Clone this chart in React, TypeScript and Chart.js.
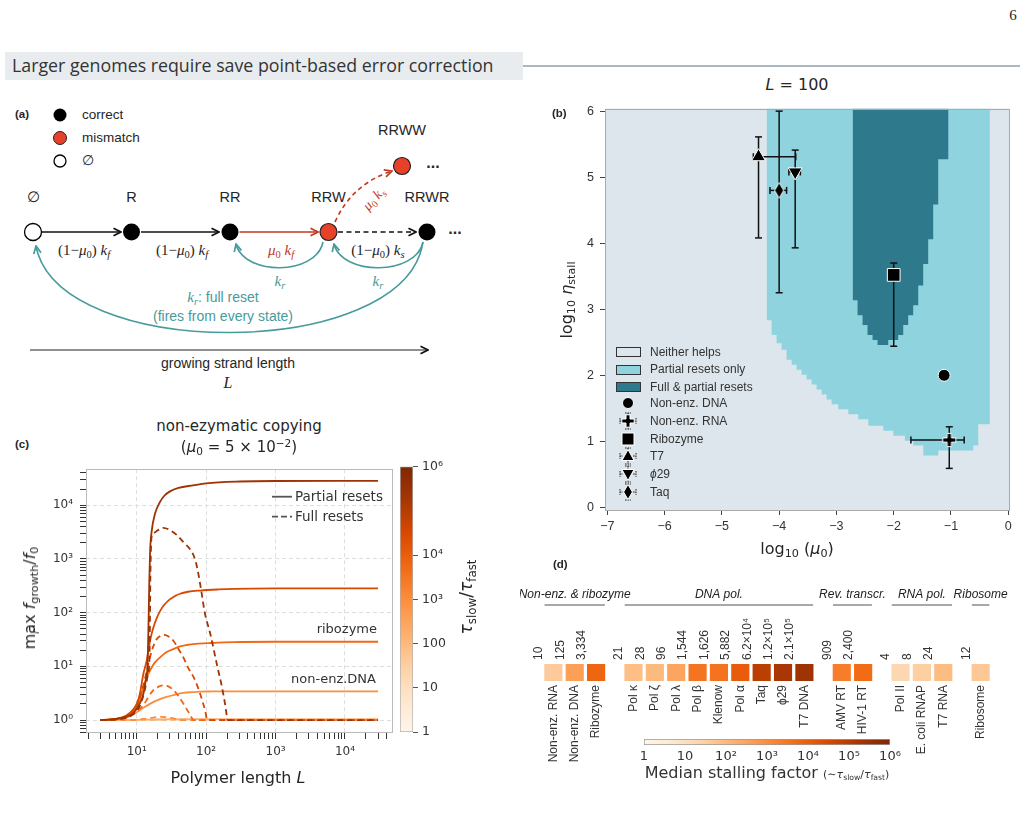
import React, { useEffect, useRef } from 'react';
import { Chart, registerables } from 'chart.js';

Chart.register(...registerables);

// ======================= DATA =======================
// (b) regime map at L = 100 — lower edge of each region for each column (log10 mu0)
const partialColLeft = [-4.219, -4.131, -4.044, -3.957, -3.870, -3.782, -3.695, -3.608, -3.521, -3.433, -3.346, -3.259, -3.172, -3.084, -2.968, -2.793, -2.619, -2.444, -2.182, -2.008, -1.805, -1.659, -1.484, -1.222, -0.611, -0.524, -0.408];
const partialColLow = [3.285, 2.835, 2.61, 2.485, 2.385, 2.235, 2.16, 2.085, 2.01, 1.935, 1.86, 1.785, 1.71, 1.635, 1.56, 1.485, 1.41, 1.335, 1.235, 1.16, 1.085, 1.01, 0.935, 0.785, 0.86, 0.935, 1.26];
const partialRightEdge = -0.321;
const fullColLeft = [-2.718, -2.631, -2.544, -2.457, -2.369, -2.282, -2.096, -1.922, -1.834, -1.747, -1.660, -1.572, -1.485, -1.398, -1.311, -1.223, -1.136];
const fullColLow = [3.61, 3.135, 2.91, 2.76, 2.61, 2.535, 2.46, 2.535, 2.61, 2.76, 2.91, 3.06, 3.36, 3.685, 4.06, 4.585, 5.27];
const fullRightEdge = -1.043;

// (b) measured systems
const pointNames = ['Non-enz. DNA', 'Non-enz. RNA', 'Ribozyme', 'T7', 'ϕ29', 'Taq'];
const pointLogMu = [-1.12, -1.03, -2.0, -4.36, -3.72, -4.0];
const pointLogEta = [2.0, 1.02, 3.52, 5.31, 5.08, 4.8];
const pointMuLo = [null, -1.70, null, -4.45, -3.83, -4.16];
const pointMuHi = [null, -0.77, null, -3.71, -3.63, -3.87];
const pointEtaLo = [null, 0.59, 2.44, 4.08, 3.93, 3.25];
const pointEtaHi = [null, 1.22, 3.70, 5.61, 5.41, 6.0];
const xTicksB = [-7, -6, -5, -4, -3, -2, -1, 0];
const yTicksB = [0, 1, 2, 3, 4, 5, 6];

// (c) max growth factor vs polymer length, for several tau_slow/tau_fast
const tauRatios = [10, 100, 1e3, 1e4, 1e6];
const partialL_10 = [3, 10, 20, 50, 30000];
const partialF_10 = [1.0, 1.01, 1.03, 1.04, 1.04];
const fullL_10 = [3, 20, 30000];
const fullF_10 = [1.0, 1.01, 1.0];
const partialL_100 = [3, 5, 7, 10, 13, 16, 20, 27, 35, 47, 65, 82, 120, 200, 500, 30000];
const partialF_100 = [1.0, 1.03, 1.1, 1.4, 1.75, 2.05, 2.35, 2.7, 2.95, 3.2, 3.32, 3.38, 3.41, 3.43, 3.43, 3.43];
const fullL_100 = [3, 8, 12, 16, 22, 28, 35, 42, 60, 30000];
const fullF_100 = [1.0, 1.0, 1.04, 1.1, 1.15, 1.12, 1.06, 1.0, 1.0, 1.0];
const partialL_1e3 = [3, 5, 7, 9, 10, 11, 12.5, 14, 15.6, 18, 21.7, 27, 33.8, 42, 52.6, 70, 103, 250, 1000, 30000];
const partialF_1e3 = [1.0, 1.04, 1.15, 1.45, 1.76, 2.4, 4.1, 6.3, 8.4, 11.5, 14.7, 18.5, 21, 23.5, 25, 26.3, 27, 28.3, 28.7, 28.7];
const fullL_1e3 = [3, 7, 10, 12.5, 15, 17.4, 20, 24, 28, 34, 40, 47, 55, 59, 66, 100, 30000];
const fullF_1e3 = [1.0, 1.1, 1.5, 1.9, 2.8, 3.6, 4.1, 4.43, 4.3, 3.6, 2.8, 2.03, 1.45, 1.24, 1.0, 1.0, 1.0];
const partialL_1e4 = [3, 5, 7, 9, 10, 11, 12.5, 14, 14.7, 16, 17.4, 19.5, 21.7, 25, 30, 36, 42, 55, 82, 150, 250, 1000, 30000];
const partialF_1e4 = [1.0, 1.05, 1.2, 1.6, 2.0, 2.9, 7.3, 13, 19.6, 35, 53, 80, 107, 140, 177, 205, 225, 245, 258, 270, 277, 283, 284];
const fullL_1e4 = [3, 7, 10, 12.5, 14, 16.5, 19.4, 22, 24, 27, 33.8, 40, 47, 55, 66, 75, 82, 90, 97, 104, 30000];
const fullF_1e4 = [1.0, 1.15, 1.9, 4.5, 8.4, 19.6, 32, 37, 38.7, 37.5, 30, 21, 14.7, 9.5, 6.3, 4.3, 3.1, 2.1, 1.5, 1.0, 1.0];
const partialL_1e6 = [3, 5, 7, 9, 10, 11, 12.5, 13.5, 14.3, 14.8, 15.2, 15.6, 16.4, 18.4, 21.7, 25, 30.2, 40, 65, 100, 308, 1000, 30000];
const partialF_1e6 = [1.0, 1.05, 1.15, 1.35, 1.64, 2.0, 3.1, 5.5, 10, 60, 384, 1380, 3200, 6980, 11500, 15000, 18100, 21000, 23400, 25500, 27600, 28200, 28300];
const fullL_1e6 = [3, 6, 9, 11, 13, 14.5, 15.3, 15.8, 16.4, 18, 20, 24.2, 30, 37.7, 48, 62, 69, 75, 85, 95, 115, 145, 170, 190, 205, 30000];
const fullF_1e6 = [1.0, 1.05, 1.3, 1.8, 3.5, 7, 15, 600, 2600, 3100, 3400, 3800, 3450, 2800, 2000, 1370, 1000, 650, 260, 105, 40, 10, 4, 1.8, 1.0, 1.0];
const partialCurvesL = [partialL_10, partialL_100, partialL_1e3, partialL_1e4, partialL_1e6];
const partialCurvesF = [partialF_10, partialF_100, partialF_1e3, partialF_1e4, partialF_1e6];
const fullCurvesL = [fullL_10, fullL_100, fullL_1e3, fullL_1e4, fullL_1e6];
const fullCurvesF = [fullF_10, fullF_100, fullF_1e3, fullF_1e4, fullF_1e6];
const cbTicksC = [1, 10, 100, 1e3, 1e4, 1e6];
const cbLabelsC = ['1', '10', '100', '10³', '10⁴', '10⁶'];

// (d) median stalling factors
const enzymeNames = ['Non-enz. RNA', 'Non-enz. DNA', 'Ribozyme', 'Pol κ', 'Pol ζ', 'Pol λ', 'Pol β', 'Klenow', 'Pol α', 'Taq', 'ϕ29', 'T7 DNA', 'AMV RT', 'HIV-1 RT', 'Pol II', 'E. coli RNAP', 'T7 RNA', 'Ribosome'];
const enzymeGroup = [0, 0, 0, 1, 1, 1, 1, 1, 1, 1, 1, 1, 2, 2, 3, 3, 3, 4];
const stallingFactor = [10, 125, 3334, 21, 28, 96, 1544, 1626, 5882, 62000, 120000, 210000, 909, 2400, 4, 8, 24, 12];
const stallingLabels = ['10', '125', '3,334', '21', '28', '96', '1,544', '1,626', '5,882', '6.2×10⁴', '1.2×10⁵', '2.1×10⁵', '909', '2,400', '4', '8', '24', '12'];
const groupNames = ['Non-enz. & ribozyme', 'DNA pol.', 'Rev. transcr.', 'RNA pol.', 'Ribosome'];
const cbTicksD = [1, 10, 100, 1e3, 1e4, 1e5, 1e6];
const cbLabelsD = ['1', '10', '10²', '10³', '10⁴', '10⁵', '10⁶'];

// ======================= STYLE HELPERS =======================
const SANS = '"Liberation Sans", Arial, Helvetica, sans-serif';
const DJV = '"DejaVu Sans", Verdana, sans-serif';
const SERIF = '"Liberation Serif", "DejaVu Serif", serif';
const TXT = '#262626';
const C_BG = '#dce6ec';
const C_PARTIAL = '#8fd3df';
const C_FULL = '#2e7a8c';
const GROUP_GAP = 0.75;

const ORANGES = ['#fff5eb', '#fee6ce', '#fdd0a2', '#fdae6b', '#fd8d3c', '#f16913', '#d94801', '#a63603', '#7f2704'];
function hexToRgb(h: string) { return [1, 3, 5].map((i) => parseInt(h.slice(i, i + 2), 16)); }
function oranges(t: number) {
  const c = Math.max(0, Math.min(1, t)) * 8;
  const i = Math.min(7, Math.floor(c));
  const f = c - i;
  const a = hexToRgb(ORANGES[i]);
  const b = hexToRgb(ORANGES[i + 1]);
  return `rgb(${a.map((v, k) => Math.round(v + (b[k] - v) * f)).join(',')})`;
}
const SUP: any = { '0': '⁰', '1': '¹', '2': '²', '3': '³', '4': '⁴', '5': '⁵', '6': '⁶', '7': '⁷', '8': '⁸', '9': '⁹', '-': '⁻' };
const isPow10 = (v: number) => Math.abs(Math.log10(v) - Math.round(Math.log10(v))) < 1e-9;
const powLabel = (v: number) => '10' + String(Math.round(Math.log10(v))).split('').map((c) => SUP[c]).join('');
function logTicks(min: number, max: number) {
  const out: number[] = [];
  for (let e = -2; e <= 6; e++) for (let k = 1; k <= 9; k++) {
    const v = parseFloat((k * Math.pow(10, e)).toPrecision(6));
    if (v >= min && v <= max) out.push(v);
  }
  return out;
}

function T(props: any) {
  const { x, y, children, align = 'center', size = 12, color = TXT, font = SANS, weight = 'normal', italic = false, rotate = 0 } = props;
  const tx = align === 'center' ? '-50%' : align === 'right' ? '-100%' : '0%';
  return (
    <div style={{ position: 'absolute', left: x, top: y, transform: `translate(${tx}, -50%)` + (rotate ? ` rotate(${rotate}deg)` : ''), fontSize: size, color, fontFamily: font, fontWeight: weight, fontStyle: italic ? 'italic' : 'normal', whiteSpace: 'nowrap', lineHeight: 1 }}>
      {children}
    </div>
  );
}
const Sub = ({ children }: any) => <span style={{ fontSize: '0.7em', position: 'relative', top: '0.3em' }}>{children}</span>;
const Sup = ({ children }: any) => <span style={{ fontSize: '0.7em', position: 'relative', top: '-0.5em' }}>{children}</span>;
const I = ({ children }: any) => <span style={{ fontStyle: 'italic' }}>{children}</span>;

const frame = (color: string) => ({
  id: 'frame',
  afterDraw(chart: any) {
    const a = chart.chartArea;
    const ctx = chart.ctx;
    ctx.save();
    ctx.strokeStyle = color;
    ctx.lineWidth = 1;
    ctx.strokeRect(Math.round(a.left) + 0.5, Math.round(a.top) + 0.5, Math.round(a.right - a.left) - 1, Math.round(a.bottom - a.top) - 1);
    ctx.restore();
  },
});

// ======================= PANEL (b) =======================
function markerImage(kind: string) {
  const c = document.createElement('canvas');
  const ctx = c.getContext('2d')!;
  if (kind === 'plus') {
    c.width = 16; c.height = 16;
    ctx.translate(8, 8);
    ctx.beginPath();
    const a = 2.1, b = 6.6;
    ctx.moveTo(-a, -b); ctx.lineTo(a, -b); ctx.lineTo(a, -a); ctx.lineTo(b, -a); ctx.lineTo(b, a); ctx.lineTo(a, a);
    ctx.lineTo(a, b); ctx.lineTo(-a, b); ctx.lineTo(-a, a); ctx.lineTo(-b, a); ctx.lineTo(-b, -a); ctx.lineTo(-a, -a); ctx.closePath();
  } else {
    c.width = 12; c.height = 18;
    ctx.translate(6, 9);
    ctx.beginPath();
    ctx.moveTo(0, -7.8); ctx.lineTo(4.6, 0); ctx.lineTo(0, 7.8); ctx.lineTo(-4.6, 0); ctx.closePath();
  }
  ctx.fillStyle = '#000';
  ctx.fill();
  ctx.strokeStyle = '#fff';
  ctx.lineWidth = 1;
  ctx.stroke();
  return c;
}

function makeB(canvas: HTMLCanvasElement) {
  const stepPts = (xs: number[], ys: number[], xEnd: number) => [...xs.map((x, i) => ({ x, y: ys[i] })), { x: xEnd, y: ys[ys.length - 1] }];
  const styles: any[] = ['circle', markerImage('plus'), 'rect', 'triangle', 'triangle', markerImage('diamond')];
  const radii = [6, 7, 9, 8, 8, 8];
  const rot = [0, 0, 0, 0, 180, 0];
  const markerSets = pointNames.map((name, i) => ({
    type: 'line',
    label: name,
    data: [{ x: pointLogMu[i], y: pointLogEta[i] }],
    showLine: false,
    pointStyle: styles[i],
    pointRadius: radii[i],
    pointRotation: rot[i],
    pointBackgroundColor: '#000',
    pointBorderColor: '#fff',
    pointBorderWidth: 1,
    order: 1,
  }));
  const bgPlugin = {
    id: 'bgB',
    beforeDatasetsDraw(chart: any) {
      const a = chart.chartArea;
      chart.ctx.save();
      chart.ctx.fillStyle = C_BG;
      chart.ctx.fillRect(a.left, a.top, a.right - a.left, a.bottom - a.top);
      chart.ctx.restore();
    },
  };
  const errPlugin = {
    id: 'errB',
    afterDatasetDraw(chart: any, args: any) {
      if (args.index !== 0) return;
      const { ctx } = chart;
      const xs = chart.scales.x;
      const ys = chart.scales.y;
      const cap = 3.5;
      ctx.save();
      ctx.strokeStyle = '#111';
      ctx.lineWidth = 1.5;
      const seg = (x1: number, y1: number, x2: number, y2: number) => { ctx.beginPath(); ctx.moveTo(x1, y1); ctx.lineTo(x2, y2); ctx.stroke(); };
      pointLogMu.forEach((mu, i) => {
        const px = xs.getPixelForValue(mu);
        const py = ys.getPixelForValue(pointLogEta[i]);
        if (pointEtaLo[i] != null) {
          const y1 = ys.getPixelForValue(pointEtaLo[i] as number);
          const y2 = ys.getPixelForValue(pointEtaHi[i] as number);
          seg(px, y1, px, y2); seg(px - cap, y1, px + cap, y1); seg(px - cap, y2, px + cap, y2);
        }
        if (pointMuLo[i] != null) {
          const x1 = xs.getPixelForValue(pointMuLo[i] as number);
          const x2 = xs.getPixelForValue(pointMuHi[i] as number);
          seg(x1, py, x2, py); seg(x1, py - cap, x1, py + cap); seg(x2, py - cap, x2, py + cap);
        }
      });
      ctx.restore();
    },
  };
  const tickFont = { family: SANS, size: 12.5 };
  return new Chart(canvas, {
    type: 'line',
    data: {
      datasets: [
        { label: 'Full & partial resets', data: stepPts(fullColLeft, fullColLow, fullRightEdge), stepped: 'after', fill: 'end', backgroundColor: C_FULL, borderWidth: 0, borderColor: 'rgba(0,0,0,0)', pointRadius: 0, order: 2 },
        { label: 'Partial resets only', data: stepPts(partialColLeft, partialColLow, partialRightEdge), stepped: 'after', fill: 'end', backgroundColor: C_PARTIAL, borderWidth: 0, borderColor: 'rgba(0,0,0,0)', pointRadius: 0, order: 3 },
        ...markerSets,
      ] as any,
    },
    options: {
      animation: false,
      responsive: false,
      events: [],
      layout: { padding: { top: 9, right: 10, left: 0, bottom: 0 } },
      plugins: { legend: { display: false }, tooltip: { enabled: false } },
      scales: {
        x: {
          type: 'linear', min: -7.04, max: 0.03,
          afterBuildTicks: (s: any) => { s.ticks = xTicksB.map((v) => ({ value: v })); },
          afterFit: (s: any) => { s.height = 30; },
          ticks: { autoSkip: false, maxRotation: 0, padding: 4, font: tickFont, color: '#333', callback: (v: any) => (v < 0 ? '−' + Math.abs(v) : String(v)) },
          grid: { drawOnChartArea: false, tickLength: 5, tickColor: '#444', tickWidth: 1 },
          border: { display: false },
        },
        y: {
          type: 'linear', min: -0.04, max: 6.04,
          afterBuildTicks: (s: any) => { s.ticks = yTicksB.map((v) => ({ value: v })); },
          afterFit: (s: any) => { s.width = 45; },
          ticks: { autoSkip: false, padding: 6, font: tickFont, color: '#333', callback: (v: any) => String(v) },
          grid: { drawOnChartArea: false, tickLength: 5, tickColor: '#444', tickWidth: 1 },
          border: { display: false },
        },
      },
    } as any,
    plugins: [bgPlugin, errPlugin, frame('#aaaaaa')],
  });
}

// ======================= PANEL (c) =======================
function lineColor(ratio: number) { return oranges(Math.min(0.9, 0.25 + 0.75 * Math.log10(ratio) / 6)); }

function makeC(canvas: HTMLCanvasElement) {
  const datasets: any[] = [];
  const n = tauRatios.length;
  tauRatios.forEach((r, k) => {
    datasets.push({
      label: 'partial ' + r,
      data: partialCurvesL[k].map((x, i) => ({ x, y: partialCurvesF[k][i] })),
      borderColor: lineColor(r), borderWidth: 1.8, pointRadius: 0, fill: false,
      cubicInterpolationMode: 'monotone', order: 2 * (n - k) + 1,
    });
    datasets.push({
      label: 'full ' + r,
      data: fullCurvesL[k].map((x, i) => ({ x, y: fullCurvesF[k][i] })),
      borderColor: lineColor(r), borderWidth: 1.8, borderDash: [6, 4], pointRadius: 0, fill: false,
      cubicInterpolationMode: 'monotone', order: 2 * (n - k),
    });
  });
  const tickFont = { family: DJV, size: 12 };
  const gridColor = (ctx: any) => (ctx.tick && isPow10(ctx.tick.value) ? '#dedede' : 'rgba(0,0,0,0)');
  return new Chart(canvas, {
    type: 'line',
    data: { datasets },
    options: {
      animation: false,
      responsive: false,
      events: [],
      layout: { padding: { top: 12, right: 7, left: 0, bottom: 0 } },
      plugins: { legend: { display: false }, tooltip: { enabled: false } },
      scales: {
        x: {
          type: 'logarithmic', min: 1.862, max: 49200,
          afterBuildTicks: (s: any) => { s.ticks = logTicks(1.862, 49200).map((v) => ({ value: v })); },
          afterFit: (s: any) => { s.height = 42; },
          ticks: { autoSkip: false, maxRotation: 0, padding: 6, font: tickFont, color: '#333', callback: (v: any) => (isPow10(v) ? powLabel(v) : '') },
          grid: { color: gridColor, lineWidth: 1, tickLength: 6, tickColor: '#333', tickWidth: 1 },
          border: { display: false, dash: [4, 3] },
        },
        y: {
          type: 'logarithmic', min: 0.575, max: 46800,
          afterBuildTicks: (s: any) => { s.ticks = logTicks(0.575, 46800).map((v) => ({ value: v })); },
          afterFit: (s: any) => { s.width = 56; },
          ticks: { autoSkip: false, padding: 7, font: tickFont, color: '#333', callback: (v: any) => (isPow10(v) ? powLabel(v) : '') },
          grid: { color: gridColor, lineWidth: 1, tickLength: 6, tickColor: '#333', tickWidth: 1 },
          border: { display: false, dash: [4, 3] },
        },
      },
    } as any,
    plugins: [frame('#bbbbbb')],
  });
}

function gradientFill(horizontal: boolean) {
  return (ctx: any) => {
    const chart = ctx.chart;
    const a = chart.chartArea;
    if (!a) return 'rgba(0,0,0,0)';
    const g = horizontal ? chart.ctx.createLinearGradient(a.left, 0, a.right, 0) : chart.ctx.createLinearGradient(0, a.bottom, 0, a.top);
    ORANGES.forEach((c, i) => g.addColorStop(i / 8, c));
    return g;
  };
}

function makeCB(canvas: HTMLCanvasElement) {
  return new Chart(canvas, {
    type: 'bar',
    data: { labels: [''], datasets: [{ data: [[1, 1e6]], backgroundColor: gradientFill(false), borderColor: '#b0b0b0', borderWidth: 1, borderSkipped: false, barPercentage: 1, categoryPercentage: 1 }] as any },
    options: {
      animation: false, responsive: false, events: [],
      layout: { padding: { left: 5, right: 0, top: 11, bottom: 13 } },
      plugins: { legend: { display: false }, tooltip: { enabled: false } },
      scales: {
        x: { display: false },
        y: {
          type: 'logarithmic', position: 'right', min: 1, max: 1e6,
          afterBuildTicks: (s: any) => { s.ticks = cbTicksC.map((v) => ({ value: v })); },
          afterFit: (s: any) => { s.width = 57; },
          ticks: { autoSkip: false, padding: 4, font: { family: DJV, size: 12.5 }, color: '#333', callback: (v: any, i: number) => cbLabelsC[i] },
          grid: { drawOnChartArea: false, tickLength: 5, tickColor: '#555', tickWidth: 1 },
          border: { display: false },
        },
      },
    } as any,
  });
}

// ======================= PANEL (d) =======================
const cellPos = stallingFactor.map((_, i) => i + enzymeGroup[i] * GROUP_GAP);
const cellColor = (v: number) => oranges(0.12 + 0.88 * Math.log10(v) / 6);

function makeD(canvas: HTMLCanvasElement) {
  const groupPlugin = {
    id: 'groupsD',
    afterDraw(chart: any) {
      const xs = chart.scales.x;
      const top = chart.chartArea.top;
      const ctx = chart.ctx;
      ctx.save();
      groupNames.forEach((g, gi) => {
        const ps = cellPos.filter((_, i) => enzymeGroup[i] === gi);
        const x1 = xs.getPixelForValue(Math.min(...ps) - 0.41);
        const x2 = xs.getPixelForValue(Math.max(...ps) + 0.41);
        ctx.strokeStyle = '#a8a8a8';
        ctx.lineWidth = 2;
        ctx.beginPath(); ctx.moveTo(x1, top - 59); ctx.lineTo(x2, top - 59); ctx.stroke();
        ctx.fillStyle = '#222';
        ctx.font = `italic 12px ${SANS}`;
        ctx.textAlign = 'center';
        ctx.textBaseline = 'middle';
        ctx.fillText(g, (x1 + x2) / 2, top - 69);
      });
      ctx.restore();
    },
  };
  const tickFont = { family: SANS, size: 12 };
  return new Chart(canvas, {
    type: 'bar',
    data: {
      datasets: [{
        data: cellPos.map((p) => ({ x: p, y: [0, 1] })),
        backgroundColor: stallingFactor.map((v) => cellColor(v)),
        borderWidth: 0, barThickness: 17.5,
      }] as any,
    },
    options: {
      animation: false, responsive: false, events: [],
      layout: { padding: { left: 12, right: 8, top: 0, bottom: 0 } },
      plugins: { legend: { display: false }, tooltip: { enabled: false } },
      scales: {
        x: {
          type: 'linear', position: 'bottom', min: -1, max: 21, offset: false,
          afterBuildTicks: (s: any) => { s.ticks = cellPos.map((v) => ({ value: v })); },
          afterFit: (s: any) => { s.height = 89; },
          ticks: { autoSkip: false, minRotation: 90, maxRotation: 90, padding: 4, font: tickFont, color: '#333', callback: (v: any, i: number) => enzymeNames[i] },
          grid: { display: false, drawTicks: false },
          border: { display: false },
        },
        xTop: {
          type: 'linear', position: 'top', min: -1, max: 21, offset: false,
          afterBuildTicks: (s: any) => { s.ticks = cellPos.map((v) => ({ value: v })); },
          afterFit: (s: any) => { s.height = 84; },
          ticks: { autoSkip: false, minRotation: 90, maxRotation: 90, padding: 4, font: tickFont, color: '#333', callback: (v: any, i: number) => stallingLabels[i] },
          grid: { display: false, drawTicks: false },
          border: { display: false },
        },
        y: { display: false, min: 0, max: 1 },
      },
    } as any,
    plugins: [groupPlugin],
  });
}

function makeDB(canvas: HTMLCanvasElement) {
  return new Chart(canvas, {
    type: 'bar',
    data: { labels: [''], datasets: [{ data: [[1, 1e6]], backgroundColor: gradientFill(true), borderColor: '#9a9a9a', borderWidth: 1, borderSkipped: false, barPercentage: 1, categoryPercentage: 1 }] as any },
    options: {
      indexAxis: 'y',
      animation: false, responsive: false, events: [],
      layout: { padding: { left: 14, right: 15, top: 5, bottom: 0 } },
      plugins: { legend: { display: false }, tooltip: { enabled: false } },
      scales: {
        y: { display: false },
        x: {
          type: 'logarithmic', min: 1, max: 1e6,
          afterBuildTicks: (s: any) => { s.ticks = cbTicksD.map((v) => ({ value: v })); },
          afterFit: (s: any) => { s.height = 29; },
          ticks: { autoSkip: false, maxRotation: 0, padding: 4, font: { family: DJV, size: 13 }, color: '#333', callback: (v: any, i: number) => cbLabelsD[i] },
          grid: { display: false, drawTicks: false },
          border: { display: false },
        },
      },
    } as any,
  });
}

// ======================= PANEL (a) diagram =======================
function PanelA() {
  const teal = '#479b9a';
  const red = '#c4391f';
  const redFill = '#e8412a';
  const nodeY = 232;
  return (
    <>
      <svg width={480} height={400} style={{ position: 'absolute', left: 0, top: 0 }}>
        <defs>
          {[['hBlack', '#111'], ['hRed', red], ['hTeal', teal]].map(([id, c]) => (
            <marker key={id} id={id} viewBox="0 0 10 10" refX="9" refY="5" markerWidth="10" markerHeight="10" markerUnits="userSpaceOnUse" orient="auto">
              <path d="M1.5,1.3 L9,5 L1.5,8.7" fill="none" stroke={c} strokeWidth="1.7" />
            </marker>
          ))}
        </defs>
        {/* legend */}
        <circle cx={60} cy={115} r={6.5} fill="#000" />
        <circle cx={60} cy={138} r={6.5} fill={redFill} stroke="#222" strokeWidth={1} />
        <circle cx={60} cy={161} r={6} fill="#fff" stroke="#000" strokeWidth={1.3} />
        {/* forward arrows */}
        <path d={`M42 ${nodeY} L121 ${nodeY}`} stroke="#111" strokeWidth={1.6} markerEnd="url(#hBlack)" />
        <path d={`M141 ${nodeY} L219 ${nodeY}`} stroke="#111" strokeWidth={1.6} markerEnd="url(#hBlack)" />
        <path d={`M239.5 ${nodeY} L318 ${nodeY}`} stroke={red} strokeWidth={1.6} markerEnd="url(#hRed)" />
        <path d={`M338 ${nodeY} L416 ${nodeY}`} stroke="#111" strokeWidth={1.6} strokeDasharray="5 3.5" markerEnd="url(#hBlack)" />
        <path d="M335 222 Q352 184 392 171" fill="none" stroke={red} strokeWidth={1.6} strokeDasharray="4.5 3.5" markerEnd="url(#hRed)" />
        {/* reset arcs */}
        <path d="M323 242 C316 276 244 276 236 244" fill="none" stroke={teal} strokeWidth={1.6} markerEnd="url(#hTeal)" />
        <path d="M423 242 C416 276 342 276 334 244" fill="none" stroke={teal} strokeWidth={1.6} markerEnd="url(#hTeal)" />
        <path d="M423 242 C405 362 58 362 36 246" fill="none" stroke={teal} strokeWidth={1.6} markerEnd="url(#hTeal)" />
        {/* nodes */}
        <circle cx={33} cy={nodeY} r={8.5} fill="#fff" stroke="#000" strokeWidth={1.3} />
        <circle cx={131.5} cy={nodeY} r={8.5} fill="#000" />
        <circle cx={230} cy={nodeY} r={8.5} fill="#000" />
        <circle cx={328.5} cy={nodeY} r={8.5} fill={redFill} stroke="#222" strokeWidth={1.2} />
        <circle cx={427} cy={nodeY} r={8.5} fill="#000" />
        <circle cx={402} cy={166} r={8.5} fill={redFill} stroke="#222" strokeWidth={1.2} />
        {/* length axis */}
        <path d="M30 350 L428 350" stroke="#222" strokeWidth={1.2} markerEnd="url(#hBlack)" />
      </svg>
      <T x={15} y={115} align="left" size={11.5} weight="bold">(a)</T>
      <T x={82} y={115} align="left" size={13.5}>correct</T>
      <T x={82} y={138} align="left" size={13.5}>mismatch</T>
      <T x={82} y={161} align="left" size={13.5}>∅</T>
      <T x={33} y={197} size={14.5}>∅</T>
      <T x={131.5} y={197} size={14.5}>R</T>
      <T x={230} y={197} size={14.5}>RR</T>
      <T x={328.5} y={197} size={14.5}>RRW</T>
      <T x={427} y={197} size={14.5}>RRWR</T>
      <T x={402} y={130} size={14.5}>RRWW</T>
      <T x={455} y={229} size={16} weight="bold">...</T>
      <T x={433} y={163} size={16} weight="bold">...</T>
      <T x={84} y={250} size={15} font={SERIF}>(1−<I>μ</I><Sub>0</Sub>) <I>k</I><Sub><I>f</I></Sub></T>
      <T x={182} y={250} size={15} font={SERIF}>(1−<I>μ</I><Sub>0</Sub>) <I>k</I><Sub><I>f</I></Sub></T>
      <T x={281} y={250} size={15} font={SERIF} color={red}><I>μ</I><Sub>0</Sub> <I>k</I><Sub><I>f</I></Sub></T>
      <T x={378} y={250} size={15} font={SERIF}>(1−<I>μ</I><Sub>0</Sub>) <I>k</I><Sub><I>s</I></Sub></T>
      <T x={374} y={199} size={14} font={SERIF} color={red} rotate={-48}><I>μ</I><Sub>0</Sub> <I>k</I><Sub><I>s</I></Sub></T>
      <T x={280} y={281} size={15} font={SERIF} color={teal}><I>k</I><Sub><I>r</I></Sub></T>
      <T x={378} y={281} size={15} font={SERIF} color={teal}><I>k</I><Sub><I>r</I></Sub></T>
      <T x={223} y={297} size={14} color={teal}><span style={{ fontFamily: SERIF, fontSize: 15 }}><I>k</I><Sub><I>r</I></Sub></span>: full reset</T>
      <T x={223} y={316} size={14} color={teal}>(fires from every state)</T>
      <T x={228} y={363} size={14}>growing strand length</T>
      <T x={228} y={383} size={16} font={SERIF}><I>L</I></T>
    </>
  );
}

function LegendMarker({ kind, caps }: any) {
  const shape: any = {
    circle: <circle r={5.5} fill="#000" stroke="#fff" strokeWidth={1} />,
    plus: <path d="M-2,-6.2 H2 V-2 H6.2 V2 H2 V6.2 H-2 V2 H-6.2 V-2 H-2 Z" fill="#000" stroke="#fff" strokeWidth={1} />,
    square: <rect x={-6} y={-6} width={12} height={12} fill="#000" stroke="#fff" strokeWidth={1} />,
    up: <path d="M0,-6.5 L6,4.5 L-6,4.5 Z" fill="#000" stroke="#fff" strokeWidth={1} />,
    down: <path d="M0,6.5 L6,-4.5 L-6,-4.5 Z" fill="#000" stroke="#fff" strokeWidth={1} />,
    diamond: <path d="M0,-7.5 L4.4,0 L0,7.5 L-4.4,0 Z" fill="#000" stroke="#fff" strokeWidth={1} />,
  };
  return (
    <svg width={22} height={20} viewBox="-11 -10 22 20" style={{ display: 'block' }}>
      {caps && (
        <g stroke="#222" strokeWidth={1} strokeDasharray="1.6 1">
          <path d="M-8,-3 V3 M8,-3 V3 M-8,0 H-5 M5,0 H8 M-3,-8 H3 M-3,8 H3 M0,-8 V-5 M0,5 V8" />
        </g>
      )}
      {shape[kind]}
    </svg>
  );
}

// ======================= APP =======================
export default function App() {
  const bRef = useRef<HTMLCanvasElement>(null);
  const cRef = useRef<HTMLCanvasElement>(null);
  const cbRef = useRef<HTMLCanvasElement>(null);
  const dRef = useRef<HTMLCanvasElement>(null);
  const dbRef = useRef<HTMLCanvasElement>(null);

  useEffect(() => {
    const charts: Chart[] = [];
    charts.push(makeB(bRef.current!));
    charts.push(makeC(cRef.current!));
    charts.push(makeCB(cbRef.current!));
    charts.push(makeD(dRef.current!));
    charts.push(makeDB(dbRef.current!));
    return () => charts.forEach((c) => c.destroy());
  }, []);

  const cv = (ref: any, left: number, top: number, w: number, h: number) => (
    <canvas ref={ref} width={w} height={h} style={{ position: 'absolute', left, top, width: w, height: h }} />
  );

  const legendPatch = [['Neither helps', C_BG], ['Partial resets only', C_PARTIAL], ['Full & partial resets', C_FULL]];
  const legendPatchY = [351.7, 369.3, 386.7];
  const legendKinds = ['circle', 'plus', 'square', 'up', 'down', 'diamond'];
  const legendCaps = [false, true, false, true, true, true];
  const legendMarkY = [403.3, 421, 438.7, 456.4, 474.1, 491.8];

  return (
    <div style={{ position: 'absolute', left: 0, top: 0, width: 1025, height: 822, background: '#fff', overflow: 'hidden', fontFamily: SANS }}>
      {/* page header */}
      <T x={1013} y={15} size={15} font={SERIF}>6</T>
      <div style={{ position: 'absolute', left: 5, top: 52, width: 518, height: 28, background: '#e9ecef' }} />
      <div style={{ position: 'absolute', left: 523, top: 65, width: 497, height: 1.5, background: '#a9b7c6' }} />
      <T x={12} y={66} align="left" size={17.8} font='"Open Sans", sans-serif' color="#333">Larger genomes require save point-based error correction</T>

      <PanelA />

      {cv(bRef, 560, 95, 460, 445)}
      {cv(cRef, 30, 455, 370, 320)}
      {cv(cbRef, 395, 455, 75, 290)}
      {cv(dRef, 520, 580, 490, 190)}
      {cv(dbRef, 630, 734, 275, 40)}

      {/* (b) labels */}
      <T x={797} y={85} size={16} font={DJV}><I>L</I> = 100</T>
      <T x={552} y={114} align="left" size={11.5} weight="bold">(b)</T>
      <T x={567} y={300} size={16} font={DJV} rotate={-90}>log<Sub>10</Sub> <I>η</I><Sub>stall</Sub></T>
      <T x={797} y={549} size={16} font={DJV}>log<Sub>10</Sub> (<I>μ</I><Sub>0</Sub>)</T>
      {legendPatch.map(([name, col], i) => (
        <React.Fragment key={name}>
          <div style={{ position: 'absolute', left: 616, top: legendPatchY[i] - 4.5, width: 23, height: 8, background: col, border: '1px solid #333' }} />
          <T x={650} y={legendPatchY[i]} align="left" size={12} color="#333">{name}</T>
        </React.Fragment>
      ))}
      {pointNames.map((name, i) => (
        <React.Fragment key={name}>
          <div style={{ position: 'absolute', left: 617, top: legendMarkY[i] - 10 }}>
            <LegendMarker kind={legendKinds[i]} caps={legendCaps[i]} />
          </div>
          <T x={650} y={legendMarkY[i]} align="left" size={12} color="#333">{name === 'ϕ29' ? <><I>ϕ</I>29</> : name}</T>
        </React.Fragment>
      ))}

      {/* (c) labels */}
      <T x={15} y={445} align="left" size={11.5} weight="bold">(c)</T>
      <T x={239} y={426} size={15} font={DJV}>non-ezymatic copying</T>
      <T x={239} y={447} size={15} font={DJV}>(<I>μ</I><Sub>0</Sub> = 5 × 10<Sup>−2</Sup>)</T>
      <T x={30} y={598} size={16} font={DJV} rotate={-90}>
        <span style={{ position: 'relative', display: 'inline-block' }}>max<span style={{ position: 'absolute', left: '50%', top: '0.9em', fontSize: '0.62em', transform: 'translateX(-50%)', fontStyle: 'italic' }}>r</span></span>{' '}
        <I>f</I><Sub>growth</Sub>/<I>f</I><Sub>0</Sub>
      </T>
      <T x={238} y={778} size={16} font={DJV}>Polymer length <I>L</I></T>
      <svg width={22} height={30} style={{ position: 'absolute', left: 271, top: 490 }}>
        <line x1={1} y1={6.7} x2={21} y2={6.7} stroke="#555" strokeWidth={1.8} />
        <line x1={1} y1={26.7} x2={21} y2={26.7} stroke="#555" strokeWidth={1.8} strokeDasharray="6 3" />
      </svg>
      <T x={295} y={497} align="left" size={13.5} font={DJV} color="#333">Partial resets</T>
      <T x={295} y={517} align="left" size={13.5} font={DJV} color="#333">Full resets</T>
      <T x={377} y={628} align="right" size={13} font={DJV} color="#333">ribozyme</T>
      <T x={376} y={678} align="right" size={13} font={DJV} color="#333">non-enz.DNA</T>
      <T x={466} y={597} size={17} font={DJV} rotate={-90}><I>τ</I><Sub>slow</Sub>/<I>τ</I><Sub>fast</Sub></T>

      {/* (d) labels */}
      <T x={553} y={565} align="left" size={11.5} weight="bold">(d)</T>
      <T x={767} y={773} size={16} font={DJV} color="#333">Median stalling factor <span style={{ fontSize: 11 }}>(∼<I>τ</I><Sub>slow</Sub>/<I>τ</I><Sub>fast</Sub>)</span></T>
    </div>
  );
}
